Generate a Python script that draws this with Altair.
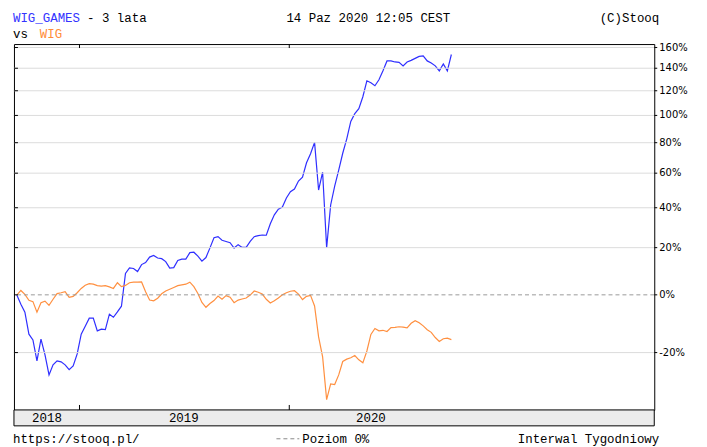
import altair as alt
import pandas as pd

# ---- data (weekly closes, % change vs first week) ----
first_week = "2018-09-14"
wig_games_pct = [
    -0.1, -3.6, -6.5, -14.1, -16.0, -22.5, -15.7, -20.7, -26.6, -23.7,
    -22.5, -22.8, -23.7, -25.1, -24.0, -20.4, -14.1, -11.4, -8.6, -8.6,
    -13.0, -12.4, -12.6, -7.2, -8.3, -6.4, -4.3, 8.6, 11.0, 10.7,
    9.4, 12.4, 13.3, 15.7, 16.4, 15.3, 15.0, 13.7, 10.9, 11.1,
    14.2, 14.8, 14.8, 17.7, 17.9, 16.1, 13.9, 15.5, 19.9, 24.7,
    25.2, 23.5, 22.9, 22.3, 19.8, 21.4, 20.1, 20.1, 22.9, 25.2,
    25.7, 26.0, 25.9, 31.6, 36.2, 39.2, 40.4, 45.4, 48.9, 50.5,
    55.2, 57.6, 66.6, 72.5, 80.2, 49.9, 60.6, 20.0, 41.5, 52.2,
    61.9, 72.8, 82.7, 95.4, 101.4, 105.3, 115.0, 128.6, 126.9, 124.3,
    129.5, 137.6, 146.9, 146.9, 145.9, 145.5, 142.2, 145.9, 147.4, 149.3,
    151.2, 151.7, 146.9, 145.0, 142.2, 137.6, 144.1, 137.6, 153.1,
]
wig_pct = [
    -0.1, 1.7, 0.2, -2.1, -2.6, -6.5, -3.0, -2.4, -4.0, -1.7,
    0.5, 0.8, 1.2, -1.0, -0.6, 0.8, 2.5, 3.8, 4.4, 4.2,
    3.6, 3.4, 3.6, 3.1, 2.5, 4.8, 3.2, 3.7, 4.8, 5.0,
    5.0, 5.1, 1.2, -2.0, -2.3, -1.3, 0.4, 1.5, 2.2, 2.9,
    3.6, 3.9, 4.2, 5.0, 3.2, 0.5, -2.9, -4.7, -3.3, -2.2,
    -0.5, -1.7, -0.3, -0.9, -3.0, -2.0, -1.6, -1.2, -0.1, 1.5,
    1.0, 0.3, -1.7, -3.1, -2.3, -1.2, 0.0, 0.8, 1.4, 1.6,
    0.3, -1.8, -0.6, -0.2, -4.2, -15.0, -21.3, -33.3, -29.1, -29.3,
    -26.6, -22.7, -22.0, -21.6, -20.9, -22.2, -23.1, -19.5, -14.2, -12.2,
    -13.0, -12.8, -13.2, -11.9, -11.8, -11.6, -11.7, -12.0, -10.4, -9.5,
    -10.2, -11.3, -12.6, -13.5, -15.2, -16.5, -15.6, -15.4, -15.9,
]
series_names = ["WIG_GAMES", "WIG"]
series_colors = ["#2f2fff", "#ff9040"]
y_tick_pct = [-20, 0, 20, 40, 60, 80, 100, 120, 140, 160]
y_tick_labels = ["-20%", "0%", "20%", "40%", "60%", "80%", "100%", "120%", "140%", "160%"]
y_domain_pct = [-35.9, 163.5]
year_starts = [(2019, 1, 1), (2020, 1, 1)]
x_domain = [(2018, 9, 9), (2021, 9, 27)]
year_labels = [2018, 2019, 2020]

W, H = 644, 368
MONO = "Liberation Mono"
FS = 12.5

dates = pd.date_range(first_week, periods=len(wig_games_pct), freq="7D")
fmt = "%Y-%m-%dT%H:%M:%S"
n = len(dates)
df = pd.DataFrame({
    "date": [d.strftime(fmt) for d in dates] * 2,
    "pct": wig_games_pct + wig_pct,
    "series": [series_names[0]] * n + [series_names[1]] * n,
})
df["ratio"] = 1 + df["pct"] / 100


def dt(t):
    return alt.DateTime(year=t[0], month=t[1], date=t[2])


x_scale = alt.Scale(domain=[dt(x_domain[0]), dt(x_domain[1])])
y_scale = alt.Scale(type="log", domain=[1 + v / 100 for v in y_domain_pct], nice=False)
tick_df = pd.DataFrame({
    "ratio": [1 + v / 100 for v in y_tick_pct],
    "pct": y_tick_pct,
    "label": y_tick_labels,
})

x_axis = alt.Axis(values=[dt(t) for t in year_starts], grid=True, gridColor="#dcdcdc",
                  gridWidth=1, labels=False, ticks=False, domain=False, title=None)

lines = alt.Chart(df).mark_line(strokeWidth=1.2).encode(
    x=alt.X("date:T", scale=x_scale, axis=x_axis),
    y=alt.Y("ratio:Q", scale=y_scale, axis=None),
    color=alt.Color("series:N", scale=alt.Scale(domain=series_names, range=series_colors), legend=None),
)

Y = alt.Y("ratio:Q", scale=y_scale, axis=None)

hgrid = alt.Chart(tick_df).transform_filter("datum.pct != 0").mark_rule(
    color="#dcdcdc", strokeWidth=1).encode(y=Y)

zero = alt.Chart(tick_df).transform_filter("datum.pct == 0").mark_rule(
    color="#999999", strokeDash=[4, 3], strokeWidth=1).encode(y=Y)

left_ticks = alt.Chart(tick_df).mark_rule(color="black").encode(
    y=Y, x=alt.value(0), x2=alt.value(4))
right_ticks = alt.Chart(tick_df).mark_rule(color="black").encode(
    y=Y, x=alt.value(W), x2=alt.value(W + 3))
right_labels = alt.Chart(tick_df).mark_text(
    font="DejaVu Sans", fontSize=10, color="black", align="left", baseline="middle"
).encode(y=Y, x=alt.value(W + 5), text="label:N")

year_df = pd.DataFrame({"date": [f"{y:04d}-{m:02d}-{d:02d}T00:00:00" for y, m, d in year_starts]})
top_ticks = alt.Chart(year_df).mark_rule(color="black").encode(
    x=alt.X("date:T", scale=x_scale, axis=None), y=alt.value(0), y2=alt.value(4))
bot_ticks = alt.Chart(year_df).mark_rule(color="black").encode(
    x=alt.X("date:T", scale=x_scale, axis=None), y=alt.value(H - 5), y2=alt.value(H))

band = alt.Chart(pd.DataFrame({"k": [0]})).mark_rect(
    fill="#ececec", stroke="black", strokeWidth=1
).encode(x=alt.value(0), x2=alt.value(W), y=alt.value(H), y2=alt.value(H + 16))

mids = []
for y in year_labels:
    d = dates[dates.year == y]
    mids.append((d.min() + (d.max() - d.min()) / 2).strftime(fmt))
label_df = pd.DataFrame({"date": mids, "label": [str(y) for y in year_labels]})
year_text = alt.Chart(label_df).mark_text(font=MONO, fontSize=FS, color="black", baseline="middle").encode(
    x=alt.X("date:T", scale=x_scale, axis=None), y=alt.value(H + 8), text="label:N")


def txt(s, x, y, color="black", align="left"):
    return alt.Chart(pd.DataFrame({"t": [s]})).mark_text(
        font=MONO, fontSize=FS, color=color, align=align, baseline="middle"
    ).encode(x=alt.value(x), y=alt.value(y), text="t:N")


texts = [
    txt("WIG_GAMES", -1, -26, "#3333ff"),
    txt("- 3 lata", 73.5, -26),
    txt("14 Paz 2020 12:05 CEST", 274, -26),
    txt("(C)Stooq", 649, -26, align="right"),
    txt("vs", -1, -10),
    txt("WIG", 26, -10, "#ff8c3a"),
    txt("https://stooq.pl/", -1, H + 29),
    txt("Poziom 0%", 290, H + 29),
    txt("Interwal Tygodniowy", 649, H + 29, align="right"),
]
footer_dash = alt.Chart(pd.DataFrame({"k": [0]})).mark_rule(
    color="#888888", strokeDash=[4, 3], strokeWidth=1
).encode(x=alt.value(264), x2=alt.value(287), y=alt.value(H + 29))

chart = alt.layer(
    lines, band, hgrid, zero, left_ticks, right_ticks, right_labels, top_ticks, bot_ticks,
    year_text, footer_dash, *texts
).properties(
    width=W, height=H,
    padding={"left": 6, "top": 35, "right": 45, "bottom": 36},
    autosize=alt.AutoSizeParams(type="none"),
).configure_view(stroke="black", strokeWidth=1)

chart.save("out.html", embed_options={"renderer": "svg", "actions": False})
